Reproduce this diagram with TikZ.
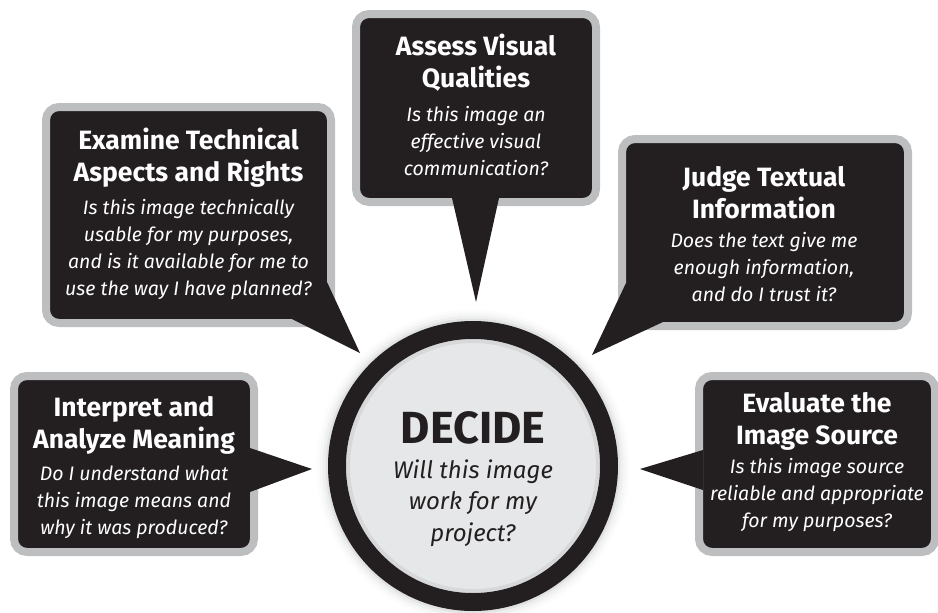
\documentclass[tikz,border=0pt]{standalone}
\usepackage{fontspec}
\setmainfont{Fira Sans}
\definecolor{inkblack}{RGB}{35,31,32}
\definecolor{rimgray}{RGB}{188,190,192}
\definecolor{discgray}{RGB}{230,231,232}
\tikzset{
    bubble/.style={
        fill=inkblack, draw=rimgray, line width=8pt,
        rounded corners=13pt, inner sep=0pt
    },
    tail/.style={fill=inkblack},
    head/.style={
        text=white, align=center, inner sep=0pt,
        font=\bfseries\fontsize{26.5}{32}\selectfont
    },
    ask/.style={
        text=white, align=center, inner sep=0pt,
        font=\itshape\fontsize{19.5}{27}\selectfont
    },
    disc/.style={
        circle, fill=discgray, draw=inkblack, line width=18pt,
        minimum size=272pt, inner sep=0pt
    },
    halo/.style={draw=rimgray, line width=3pt}
}

\begin{document}
\begin{tikzpicture}[x=1pt,y=-1pt]
	\clip (0,0) rectangle (938,613);

	% Centre disc
	\foreach \r/\o in {146/0.45,149/0.25,152/0.12,155/0.05}
		\draw[halo, opacity=\o] (473,466) circle (\r);
	\node[disc] (decide) at (473,466) {};
	\draw[rimgray, line width=4pt, opacity=0.35] (decide.center) circle (125);
	\node[text=inkblack, font=\bfseries\fontsize{45}{45}\selectfont, inner sep=0pt] (decideT) at (473,428) {DECIDE};
	\node[text=inkblack, align=center, inner sep=0pt, font=\itshape\fontsize{24}{31.5}\selectfont] (decideQ) at (473,503) {Will this image\\work for my\\project?};

	% Examine (upper left)
	\node[bubble, minimum width=285pt, minimum height=216pt] (examine) at (188.5,215) {};
	\coordinate (examineTip) at (360,353);
	\fill[tail] (327,282) -- (examineTip) -- (292,319) -- cycle;
	\node[head] (examineT) at (188.5,158) {Examine Technical\\Aspects and Rights};
	\node[ask] (examineQ) at (188.5,249.5) {Is this image technically\\usable for my purposes,\\and is it available for me to\\use the way I have planned?};

	% Assess (top)
	\node[bubble, minimum width=240pt, minimum height=188pt] (assess) at (476,108) {};
	\coordinate (assessTip) at (476,302);
	\fill[tail] (452,198) -- (assessTip) -- (499,198) -- cycle;
	\node[head] (assessT) at (476,63) {Assess Visual\\Qualities};
	\node[ask] (assessQ) at (476,141.5) {Is this image an\\effective visual\\communication?};

	% Judge (upper right)
	\node[bubble, minimum width=286pt, minimum height=187pt] (judge) at (765,232.5) {};
	\coordinate (judgeTip) at (592,355);
	\fill[tail] (626,283) -- (judgeTip) -- (663,322) -- cycle;
	\node[head] (judgeT) at (764,193) {Judge Textual\\Information};
	\node[ask] (judgeQ) at (764,267.5) {Does the text give me\\enough information,\\and do I trust it?};

	% Interpret (lower left)
	\node[bubble, minimum width=240pt, minimum height=176pt] (interpret) at (134,464) {};
	\coordinate (interpretTip) at (312,469);
	\fill[tail] (250,448) -- (interpretTip) -- (250,492) -- cycle;
	\node[head] (interpretT) at (134,425) {Interpret and\\Analyze Meaning};
	\node[ask] (interpretQ) at (134,502) {Do I understand what\\this image means and\\why it was produced?};

	% Evaluate (lower right)
	\node[bubble, minimum width=236pt, minimum height=176pt] (evaluate) at (817,464) {};
	\coordinate (evaluateTip) at (640,469);
	\fill[tail] (703,450) -- (evaluateTip) -- (703,490) -- cycle;
	\node[head] (evaluateT) at (817,421) {Evaluate the\\Image Source};
	\node[ask] (evaluateQ) at (817,495) {Is this image source\\reliable and appropriate\\for my purposes?};
\end{tikzpicture}
\end{document}
